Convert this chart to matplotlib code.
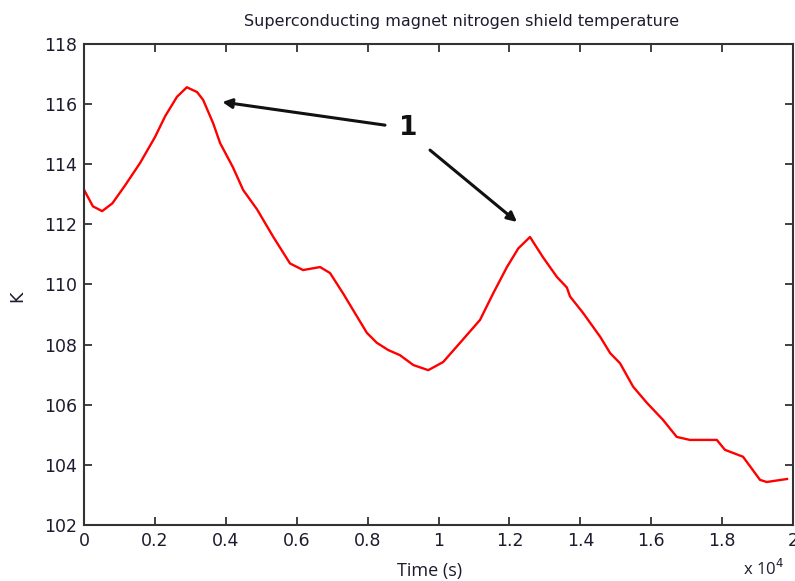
import matplotlib
matplotlib.use("Agg")
import matplotlib.pyplot as plt

time_s = [0, 250, 510, 800, 1160, 1580, 2000, 2290, 2620, 2900, 3190, 3360, 3640, 3840,
          4200, 4490, 4880, 5330, 5810, 6180, 6660, 6940, 7310, 7590, 7980, 8260, 8580,
          8910, 9290, 9710, 10130, 10600, 11170, 11540, 11930, 12250, 12580, 12950, 13340,
          13620, 13710, 14080, 14560, 14840, 15120, 15490, 15880, 16330, 16720, 17090,
          17850, 18080, 18590, 19070, 19260, 19830]
temp_K = [113.15, 112.6, 112.44, 112.7, 113.3, 114.04, 114.9, 115.6, 116.24, 116.56, 116.4,
          116.14, 115.37, 114.7, 113.9, 113.14, 112.5, 111.6, 110.7, 110.48, 110.58, 110.38,
          109.7, 109.15, 108.39, 108.06, 107.82, 107.65, 107.32, 107.15, 107.42, 108.05,
          108.82, 109.7, 110.58, 111.2, 111.58, 110.9, 110.25, 109.9, 109.6, 109.05, 108.26,
          107.72, 107.38, 106.6, 106.06, 105.5, 104.93, 104.83, 104.83, 104.5, 104.27, 103.5,
          103.43, 103.53]

xticks = [0, 2000, 4000, 6000, 8000, 10000, 12000, 14000, 16000, 18000, 20000]
xtick_labels = ["0", "0.2", "0.4", "0.6", "0.8", "1", "1.2", "1.4", "1.6", "1.8", "2"]
yticks = [102, 104, 106, 108, 110, 112, 114, 116, 118]

title = "Superconducting magnet nitrogen shield temperature"
annot_label = "1"
arrow_targets = [(3900, 116.07), (12214, 112.08)]
arrow_starts = [(8490, 115.3), (9760, 114.47)]

plt.rcParams['font.family'] = ['DejaVu Sans']
txt_color = '#1c1c2e'

fig = plt.figure(figsize=(7.95, 5.81), dpi=100)
ax = fig.add_axes([0.1057, 0.0964, 0.8918, 0.8279])
ax.plot(time_s, temp_K, color='#ff0000', lw=1.7)
ax.set_xlim(0, 20000)
ax.set_ylim(102, 118)
ax.set_xticks(xticks)
ax.set_xticklabels(xtick_labels)
ax.set_yticks(yticks)
ax.tick_params(direction='in', length=6, width=1.3, top=True, right=True,
               labelsize=12.5, colors='#333333', labelcolor=txt_color, pad=5)
for s in ax.spines.values():
    s.set_linewidth(1.5)
    s.set_color('#333333')

fig.text(0.58, 0.963, title, ha='center', va='center', fontsize=11.5, color=txt_color)
fig.text(0.54, 0.018, "Time (s)", ha='center', va='center', fontsize=13,
         color=txt_color, family=['Open Sans', 'DejaVu Sans'])
fig.text(0.022, 0.49, "K", ha='center', va='center', fontsize=12.5, color=txt_color, rotation=90)
fig.text(0.934, 0.004, r"x 10$^{4}$", ha='left', va='bottom', fontsize=12,
         color=txt_color, family=['Open Sans', 'DejaVu Sans'])

for (tx, ty), (sx, sy) in zip(arrow_targets, arrow_starts):
    ax.annotate("", xy=(tx, ty), xytext=(sx, sy),
                arrowprops=dict(arrowstyle='-|>', color='#111111', lw=2.2,
                                mutation_scale=14, shrinkA=0, shrinkB=0))
ax.text(9150, 115.2, annot_label, ha='center', va='center', fontsize=19,
        fontweight='bold', color='#111111')

fig.savefig("out.png", dpi=100)
